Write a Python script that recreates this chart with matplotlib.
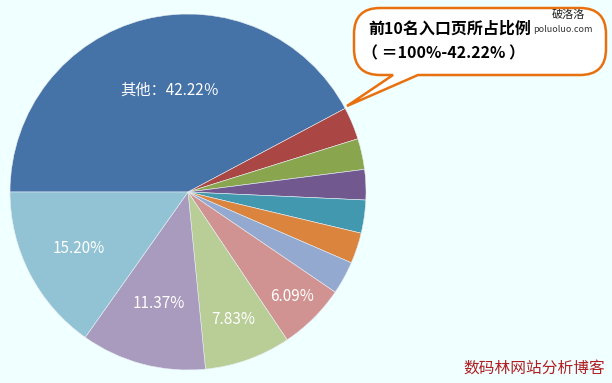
import numpy as np
import matplotlib
matplotlib.use('Agg')
import matplotlib.pyplot as plt
from matplotlib.path import Path
from matplotlib.patches import PathPatch

plt.rcParams['font.family'] = ['Noto Sans CJK SC', 'DejaVu Sans']

# slices, clockwise from 9 o'clock
shares = [42.22, 2.95, 2.80, 2.75, 3.00, 2.79, 3.00, 6.09, 7.83, 11.37, 15.20]
labels = ['其他：42.22％', '', '', '', '', '', '', '6.09%', '7.83%', '11.37%', '15.20%']
label_r = [0.58, 0, 0, 0, 0, 0, 0, 0.83, 0.76, 0.65, 0.69]
colors = ['#4572A7', '#AA4643', '#89A54E', '#71588F', '#4198AF', '#DB843D',
          '#93A9CF', '#D19392', '#B9CD96', '#A99BBD', '#92C3D5']

callout_lines = ['前10名入口页所占比例', '（ ＝100%-42.22% ）']
footer = '数码林网站分析博客'

W, H = 612, 383
fig = plt.figure(figsize=(W / 100, H / 100), dpi=100)
fig.patch.set_facecolor('#F0FFFF')
ax = fig.add_axes([0, 0, 1, 1])
ax.set_facecolor('#F0FFFF')

cx, cy, R = 188, H - 192, 178
wedges, _ = ax.pie(shares, colors=colors, startangle=180, counterclock=False,
                   center=(cx, cy), radius=R,
                   wedgeprops=dict(edgecolor='#E8EEF4', linewidth=0.4))

for w, lab, d in zip(wedges, labels, label_r):
    if not lab:
        continue
    mid = np.deg2rad((w.theta1 + w.theta2) / 2)
    if lab.startswith('其他'):
        mid += np.deg2rad(-4)
    ax.text(cx + d * R * np.cos(mid), cy + d * R * np.sin(mid), lab,
            color='white', fontsize=11, ha='center', va='center')

ax.set_xlim(0, W)
ax.set_ylim(0, H)
ax.set_aspect('equal')
ax.axis('off')

# callout bubble (pixel coords, y down)
x0, x1, y0, y1, r = 354, 606, 8, 75, 26
xa, xb, tip = 393, 418, (347, 106)
pts = [(x0 + r, y0), (x1 - r, y0), (x1, y0), (x1, y0 + r), (x1, y1 - r),
       (x1, y1), (x1 - r, y1), (xb, y1), tip, (xa, y1), (x0 + r, y1),
       (x0, y1), (x0, y1 - r), (x0, y0 + r), (x0, y0), (x0 + r, y0), (x0 + r, y0)]
codes = [Path.MOVETO, Path.LINETO, Path.CURVE3, Path.CURVE3, Path.LINETO,
         Path.CURVE3, Path.CURVE3, Path.LINETO, Path.LINETO, Path.LINETO, Path.LINETO,
         Path.CURVE3, Path.CURVE3, Path.LINETO, Path.CURVE3, Path.CURVE3, Path.CLOSEPOLY]
pts = [(x, H - y) for x, y in pts]
ax.add_patch(PathPatch(Path(pts, codes), facecolor='white', edgecolor='#E8700E',
                       linewidth=1.8, zorder=5))

ax.text(368, H - 29, callout_lines[0], fontsize=11.5, fontweight='bold',
        color='black', ha='left', va='center', zorder=6)
ax.text(362, H - 53, callout_lines[1], fontsize=11.5, fontweight='bold',
        color='black', ha='left', va='center', zorder=6)

# watermark
ax.text(568, H - 15, '破洛洛', fontsize=8, color='#222222', ha='center',
        va='center', zorder=7)
ax.text(563, H - 29, 'poluoluo.com', fontsize=6.5, color='#333333', ha='center',
        va='center', zorder=7)

ax.text(605, H - 368, footer, fontsize=11.3, color='#B01E23', ha='right',
        va='center')

fig.savefig('out.png', dpi=100, facecolor=fig.get_facecolor())
